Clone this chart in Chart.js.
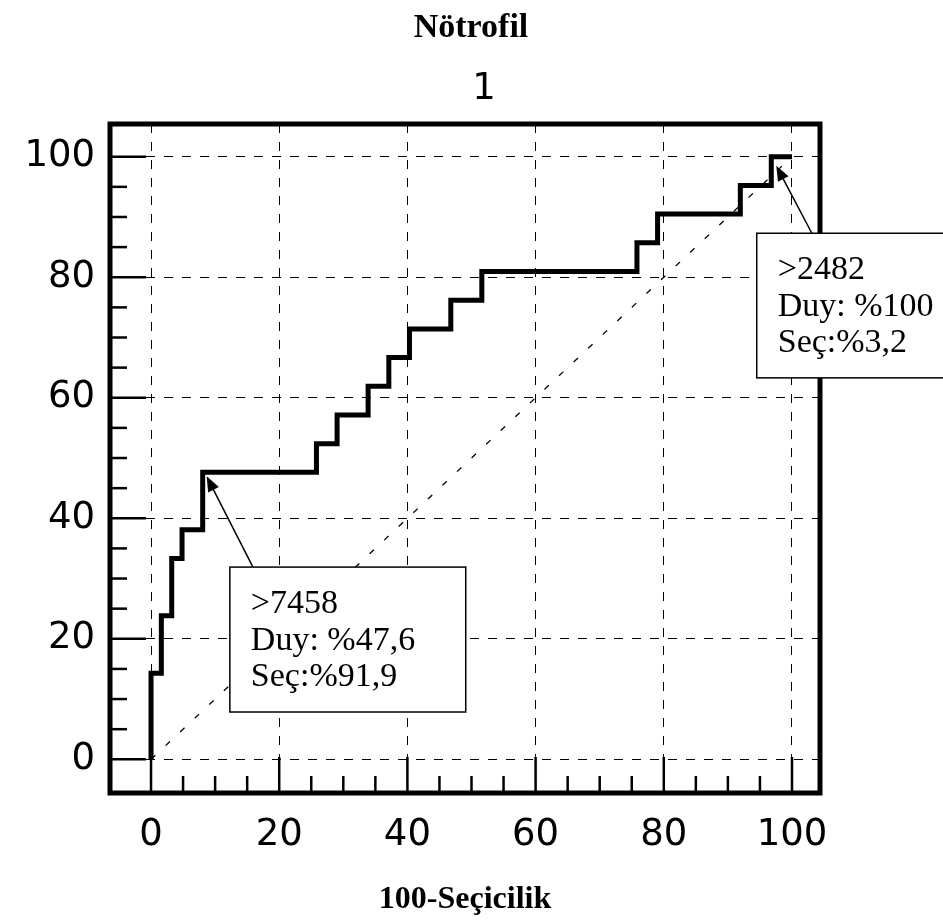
<!DOCTYPE html>
<html>
<head>
<meta charset="utf-8">
<script src="https://cdn.jsdelivr.net/npm/chart.js@4"></script>
<style>
  html, body { margin: 0; padding: 0; background: #fff; }
  #wrap { width: 943px; height: 923px; }
</style>
</head>
<body>
<div id="wrap"><canvas id="roc" width="943" height="923"></canvas></div>
<script>
// ROC curve corner points (100-Seçicilik, Duyarlılık)
const fpr = [0, 0, 1.61, 3.23, 4.84, 8.06, 25.81, 29.03, 33.87, 37.10, 40.32, 46.77, 51.61, 75.81, 79.03, 91.94, 96.77, 100];
const tpr = [0, 14.29, 23.81, 33.33, 38.10, 47.62, 52.38, 57.14, 61.90, 66.67, 71.43, 76.19, 80.95, 85.71, 90.48, 95.24, 100, 100];

// diagonal reference line
const refX = [0, 100];
const refY = [0, 100];

// axis ticks
const majorTicks = [0, 20, 40, 60, 80, 100];
const minorStep = 5;

// annotation texts
const note1 = ['>7458', 'Duy: %47,6', 'Seç:%91,9'];
const note2 = ['>2482', 'Duy: %100', 'Seç:%3,2'];

const titleText = 'Nötrofil';
const subTitle = '1';
const xTitle = '100-Seçicilik';

const rocPoints = fpr.map((x, i) => ({ x: x, y: tpr[i] }));
const refPoints = refX.map((x, i) => ({ x: x, y: refY[i] }));

// annotation boxes, placed in data units
const notes = [
  { lines: note1, point: 5, tipOff: [4, 4], box: [12.3, 31.9, 49.1, 7.85], from: 15.9 },
  { lines: note2, point: 16, tipOff: [5, 9], box: [94.5, 87.3, 125, 63.3], from: 103.1 }
];

function arrow(ctx, x1, y1, x2, y2) {
  const ang = Math.atan2(y2 - y1, x2 - x1);
  const len = 15, w = 6;
  ctx.beginPath();
  ctx.moveTo(x1, y1);
  ctx.lineTo(x2 - Math.cos(ang) * len * 0.8, y2 - Math.sin(ang) * len * 0.8);
  ctx.stroke();
  ctx.beginPath();
  ctx.moveTo(x2, y2);
  ctx.lineTo(x2 - Math.cos(ang) * len - Math.sin(ang) * w, y2 - Math.sin(ang) * len + Math.cos(ang) * w);
  ctx.lineTo(x2 - Math.cos(ang) * len + Math.sin(ang) * w, y2 - Math.sin(ang) * len - Math.cos(ang) * w);
  ctx.closePath();
  ctx.fill();
}

const extras = {
  id: 'extras',
  afterDraw(chart) {
    const ctx = chart.ctx;
    const a = chart.chartArea;
    const xs = chart.scales.x, ys = chart.scales.y;
    ctx.save();
    ctx.strokeStyle = '#000';
    ctx.fillStyle = '#000';

    // tick marks inside the frame
    ctx.lineWidth = 2.5;
    for (let v = 0; v <= 100; v += minorStep) {
      const len = v % 20 === 0 ? 36 : 17;
      const px = xs.getPixelForValue(v);
      ctx.beginPath();
      ctx.moveTo(px, a.bottom);
      ctx.lineTo(px, a.bottom - len);
      ctx.stroke();
      const py = ys.getPixelForValue(v);
      ctx.beginPath();
      ctx.moveTo(a.left, py);
      ctx.lineTo(a.left + len, py);
      ctx.stroke();
    }

    // frame
    ctx.lineWidth = 5;
    ctx.strokeRect(a.left, a.top, a.right - a.left, a.bottom - a.top);

    // annotations
    notes.forEach(n => {
      const bx1 = xs.getPixelForValue(n.box[0]), by1 = ys.getPixelForValue(n.box[1]);
      const bx2 = xs.getPixelForValue(n.box[2]), by2 = ys.getPixelForValue(n.box[3]);
      const tx = xs.getPixelForValue(fpr[n.point]) + n.tipOff[0];
      const ty = ys.getPixelForValue(tpr[n.point]) + n.tipOff[1];
      ctx.lineWidth = 1.5;
      arrow(ctx, xs.getPixelForValue(n.from), by1, tx, ty);
      ctx.fillStyle = '#fff';
      ctx.fillRect(bx1, by1, bx2 - bx1, by2 - by1);
      ctx.strokeRect(bx1, by1, bx2 - bx1, by2 - by1);
      ctx.fillStyle = '#000';
      ctx.font = '34px "Liberation Serif"';
      ctx.textAlign = 'left';
      ctx.textBaseline = 'middle';
      n.lines.forEach((t, i) => ctx.fillText(t, bx1 + 21, by1 + 37 + i * 36.5));
    });

    // titles
    ctx.textAlign = 'center';
    ctx.textBaseline = 'middle';
    ctx.font = 'bold 34px "Liberation Serif"';
    ctx.fillText(titleText, 471, 28);
    ctx.font = '37px "DejaVu Sans"';
    ctx.fillText(subTitle, 484, 89);
    ctx.font = 'bold 32px "Liberation Serif"';
    ctx.fillText(xTitle, 465, 900);
    ctx.restore();
  }
};

const setMajor = scale => { scale.ticks = majorTicks.map(v => ({ value: v })); };

new Chart(document.getElementById('roc'), {
  type: 'scatter',
  data: {
    datasets: [
      {
        data: refPoints,
        showLine: true,
        borderColor: '#000',
        borderWidth: 1.3,
        borderDash: [6, 14],
        pointRadius: 0
      },
      {
        data: rocPoints,
        showLine: true,
        stepped: 'before',
        borderColor: '#000',
        borderWidth: 5,
        borderJoinStyle: 'miter',
        pointRadius: 0
      }
    ]
  },
  options: {
    responsive: false,
    animation: false,
    devicePixelRatio: 1,
    layout: { padding: { top: 124, right: 123, left: 0, bottom: 0 } },
    plugins: { legend: { display: false }, tooltip: { enabled: false } },
    scales: {
      x: {
        type: 'linear',
        min: -6.4,
        max: 104.37,
        afterBuildTicks: setMajor,
        afterFit: s => { s.height = 130; },
        grid: { color: '#000', lineWidth: 1, drawTicks: false },
        border: { display: false, dash: [9, 9] },
        ticks: { color: '#000', padding: 20, font: { family: 'DejaVu Sans', size: 37 } }
      },
      y: {
        type: 'linear',
        min: -5.59,
        max: 105.43,
        afterBuildTicks: setMajor,
        afterFit: s => { s.width = 110; },
        grid: { color: '#000', lineWidth: 1, drawTicks: false },
        border: { display: false, dash: [9, 9] },
        ticks: { color: '#000', padding: 15, font: { family: 'DejaVu Sans', size: 37 } }
      }
    }
  },
  plugins: [extras]
});
</script>
</body>
</html>
